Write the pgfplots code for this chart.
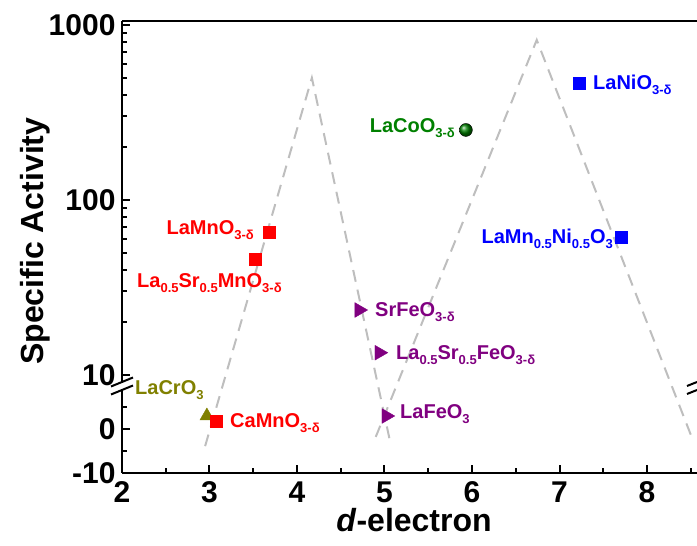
\documentclass[border=0pt]{standalone}
\usepackage{pgfplots}
\pgfplotsset{compat=1.18}
\usepackage{fontspec}
\setmainfont{Liberation Sans}
\definecolor{olivec}{RGB}{128,128,0}
\definecolor{purp}{RGB}{128,0,128}
\definecolor{dgreen}{RGB}{0,128,0}
\definecolor{dashgray}{RGB}{190,190,190}
\newcommand{\sub}[1]{\raisebox{-5pt}{\fontsize{13}{13}\selectfont\bfseries #1}}
\newcommand{\lab}{\fontsize{20}{20}\selectfont\bfseries}
\begin{document}
\begin{tikzpicture}
\useasboundingbox (-122pt,-73pt) rectangle (575pt,473pt);
\begin{axis}[
  at={(0pt,0pt)}, anchor=south west,
  scale only axis, width=575pt, height=452pt,
  xmin=2, xmax=8.5714, ymin=-10, ymax=1052,
  y coord trafo/.code={%
    \begingroup
    \pgfkeys{/pgf/fpu=true,/pgf/fpu/output format=fixed}%
    \pgfmathparse{(#1>=10)*(17.272*ln(max(#1,1))-27.50)+(#1<10)*(#1)}%
    \xdef\ytrafores{\pgfmathresult}%
    \endgroup
    \let\pgfmathresult\ytrafores
  },
  axis y line*=left,
  axis line style={line width=2.5pt},
  xtick={2,3,4,5,6,7,8}, xticklabels={2,3,4,5,6,7,8},
  minor xtick={2.5,3.5,4.5,5.5,6.5,7.5,8.5},
  xtick pos=bottom,
  ytick={-10,0,10,100,1000}, yticklabels={-10,0,10,100,1000},
  minor ytick={-5,5,20,30,40,50,60,70,80,90,200,300,400,500,600,700,800,900},
  tick align=inside,
  major tick length=8pt, minor tick length=5pt,
  every tick/.append style={black, line width=2pt},
  tick label style={font=\fontsize{30}{30}\selectfont\bfseries},
  xticklabel style={yshift=-5pt},
  yticklabel style={xshift=-3pt},
  xlabel={\textit{d}-electron}, ylabel={Specific Activity},
  label style={font=\fontsize{32}{32}\selectfont\bfseries},
  xlabel style={at={(axis description cs:0.508,-0.104)}, anchor=center},
  ylabel style={at={(axis description cs:-0.1513,0.513)}, anchor=center},
  clip=false,
]
% guide lines
\addplot[dashgray, line width=2pt, dash pattern=on 12pt off 8pt] coordinates {(2.95,-3.9) (4.17,498) (5.06,-2.5)};
\addplot[dashgray, line width=2pt, dash pattern=on 12pt off 8pt] coordinates {(4.90,-1.8) (6.74,820) (8.51,-1.8)};
% data
\addplot[only marks, mark=triangle*, mark size=8pt, color=olivec] coordinates {(2.97,2.95)};
\addplot[only marks, mark=square*, mark size=6pt, color=red] coordinates {(3.08,1.8) (3.52,46) (3.68,65.6)};
\addplot[only marks, mark=triangle*, mark size=8.5pt, color=purp, mark options={rotate=-90}] coordinates {(4.71,23.5) (4.94,13.4) (5.02,2.95)};
\addplot[only marks, mark=ball, mark size=6.5pt, mark options={ball color=dgreen}] coordinates {(5.93,251)};
\addplot[only marks, mark=square*, mark size=6pt, color=blue] coordinates {(7.22,467) (7.70,61.5)};
\end{axis}
% axis break marks
\fill[white] (-4pt,83pt) rectangle (4pt,91pt);
\draw[line width=2pt] (-11pt,86.5pt) -- (11pt,95.5pt);
\draw[line width=2pt] (-11pt,78.5pt) -- (11pt,87.5pt);
\draw[line width=2pt] (565pt,87pt) -- (575pt,91pt);
\draw[line width=2pt] (565pt,79pt) -- (575pt,83pt);
% labels
\begin{scope}[every node/.style={inner sep=0pt}]
\node[anchor=base west, text=olivec] at (13pt,78pt) {\lab LaCrO\sub{3}};
\node[anchor=base west, text=red] at (108pt,45pt) {\lab CaMnO\sub{3-δ}};
\node[anchor=base east, text=red] at (132pt,238pt) {\lab LaMnO\sub{3-δ}};
\node[anchor=base west, text=red] at (15pt,185pt) {\lab La\sub{0.5}Sr\sub{0.5}MnO\sub{3-δ}};
\node[anchor=base west, text=purp] at (253pt,156pt) {\lab SrFeO\sub{3-δ}};
\node[anchor=base west, text=purp] at (274pt,113pt) {\lab La\sub{0.5}Sr\sub{0.5}FeO\sub{3-δ}};
\node[anchor=base west, text=purp] at (278pt,54pt) {\lab LaFeO\sub{3}};
\node[anchor=base east, text=dgreen] at (333pt,340pt) {\lab LaCoO\sub{3-δ}};
\node[anchor=base west, text=blue] at (471pt,383pt) {\lab LaNiO\sub{3-δ}};
\node[anchor=base east, text=blue] at (491pt,229pt) {\lab LaMn\sub{0.5}Ni\sub{0.5}O\sub{3}};
\end{scope}
\end{tikzpicture}
\end{document}
